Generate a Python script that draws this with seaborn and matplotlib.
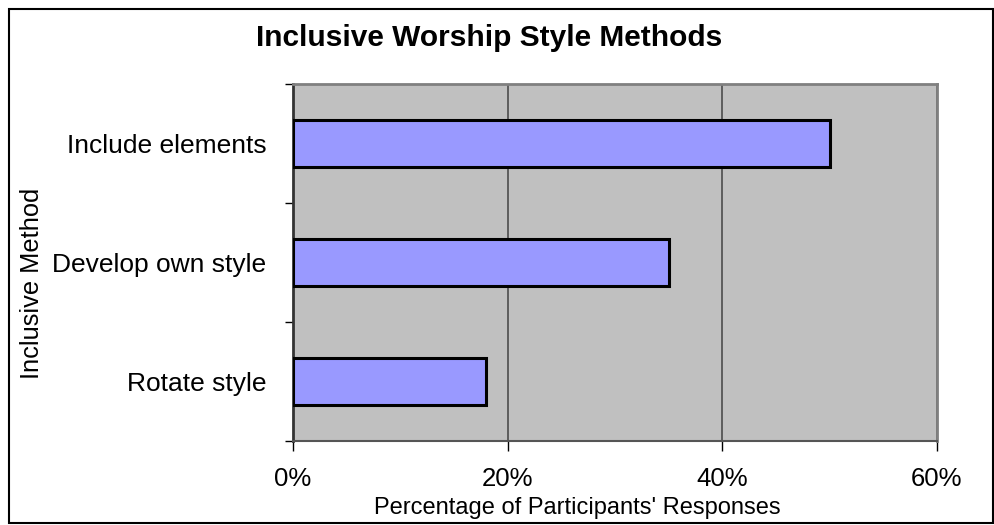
import matplotlib
matplotlib.use("Agg")
import matplotlib.pyplot as plt
import seaborn as sns
import pandas as pd
from matplotlib.patches import Rectangle
from matplotlib.ticker import FixedLocator, NullFormatter

methods = ["Include elements", "Develop own style", "Rotate style"]
percent = [50, 35, 18]
x_ticks = [0, 20, 40, 60]
x_tick_labels = ["0%", "20%", "40%", "60%"]

df = pd.DataFrame({"method": methods, "percent": percent})

sns.set_theme(style="white")
plt.rcParams["font.family"] = ["Liberation Sans", "DejaVu Sans"]
plt.rcParams["text.color"] = "black"
plt.rcParams["xtick.color"] = "black"
plt.rcParams["ytick.color"] = "black"
plt.rcParams["axes.labelcolor"] = "black"

W, H = 995, 525
fig = plt.figure(figsize=(W / 100, H / 100), dpi=100)
ax = fig.add_axes([293 / W, 1 - 441 / H, (937 - 293) / W, (441 - 84) / H])
ax.set_facecolor("#C0C0C0")

sns.barplot(data=df, x="percent", y="method", orient="h", color="#9999FF",
            saturation=1, width=0.4, edgecolor="black", linewidth=2.2, ax=ax, zorder=3)

ax.set_xlim(0, 60)
ax.set_ylim(2.5, -0.5)
ax.set_xticks(x_ticks)
ax.set_xticklabels(x_tick_labels, fontsize=18.5)
ax.tick_params(axis="x", which="major", direction="out", length=7, width=1,
               color="black", pad=12, bottom=True)
ax.tick_params(axis="y", which="major", length=0, labelsize=19, pad=19)
ax.yaxis.set_minor_locator(FixedLocator([-0.5, 0.5, 1.5, 2.5]))
ax.yaxis.set_minor_formatter(NullFormatter())
ax.tick_params(axis="y", which="minor", direction="out", length=6, width=1,
               color="black", left=True)
ax.grid(axis="x", color="#555555", linewidth=1.3, zorder=1)
ax.set_axisbelow(True)

for side in ["top", "right"]:
    ax.spines[side].set_color("#808080")
    ax.spines[side].set_linewidth(2)
ax.spines["left"].set_color("#333333")
ax.spines["left"].set_linewidth(2)
ax.spines["bottom"].set_color("#555555")
ax.spines["bottom"].set_linewidth(1.5)

ax.set_xlabel("")
ax.set_ylabel("")

fig.text(489 / W, 1 - 46 / H, "Inclusive Worship Style Methods", fontsize=21.5,
         fontweight="bold", ha="center", va="baseline")
fig.text(577 / W, 1 - 508 / H, "Percentage of Participants' Responses", fontsize=17,
         ha="center", va="center")
fig.text(32 / W, 1 - 283 / H, "Inclusive Method", fontsize=18.3, rotation=90,
         ha="center", va="center")

# outer chart frame
fig.patches.append(Rectangle((9 / W, 2 / H), (993 - 9) / W, (516 - 2) / H,
                             transform=fig.transFigure, fill=False,
                             edgecolor="black", linewidth=1.5))

fig.savefig("out.png", dpi=100)
